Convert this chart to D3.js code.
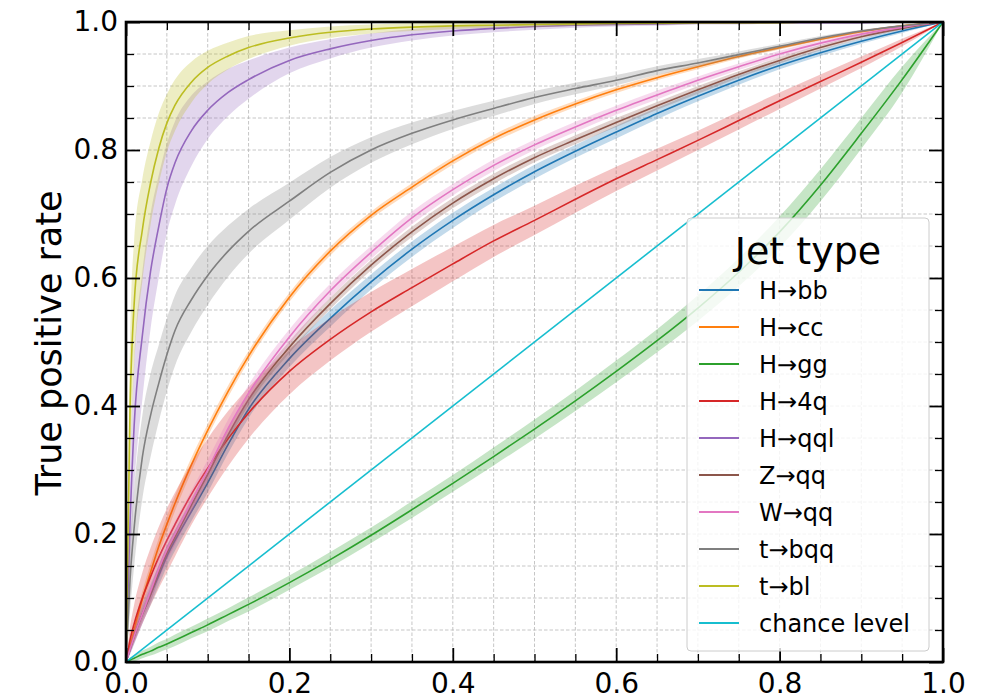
<!DOCTYPE html>
<html><head><meta charset="utf-8">
<script src="https://cdn.jsdelivr.net/npm/d3@7"></script>
<style>body{margin:0;background:#fff} svg{display:block} text{font-family:"DejaVu Sans",sans-serif;fill:#000}</style>
</head><body><svg id="c" width="1003" height="697"></svg>
<script>
// ---- data ----
const fpr = [0,0.005,0.01,0.02,0.03,0.04,0.05,0.06,0.08,0.1,0.125,0.15,0.2,0.25,0.3,0.35,0.4,0.45,0.5,0.55,0.6,0.65,0.7,0.75,0.8,0.85,0.9,0.95,1];
const categories = ["H→bb","H→cc","H→gg","H→4q","H→qql","Z→qq","W→qq","t→bqq","t→bl"];

const tprHbb  = [0,0.02,0.04,0.075,0.105,0.135,0.165,0.19,0.235,0.28,0.34,0.395,0.474,0.537,0.594,0.645,0.69,0.73,0.766,0.798,0.828,0.857,0.884,0.909,0.932,0.952,0.97,0.986,1];
const tprHcc  = [0,0.025,0.05,0.098,0.14,0.18,0.215,0.248,0.308,0.362,0.423,0.478,0.57,0.642,0.698,0.742,0.783,0.818,0.847,0.872,0.894,0.913,0.93,0.946,0.96,0.973,0.985,0.994,1];
const tprHgg  = [0,0.003,0.006,0.012,0.017,0.023,0.028,0.034,0.046,0.058,0.074,0.09,0.124,0.16,0.198,0.238,0.279,0.321,0.364,0.408,0.454,0.502,0.553,0.609,0.672,0.745,0.826,0.91,1];
const tprH4q  = [0,0.035,0.06,0.1,0.133,0.163,0.19,0.215,0.262,0.303,0.349,0.389,0.454,0.504,0.547,0.585,0.622,0.658,0.69,0.723,0.755,0.785,0.815,0.846,0.877,0.907,0.937,0.968,1];
const tprHqql = [0,0.22,0.37,0.51,0.61,0.68,0.74,0.78,0.83,0.862,0.89,0.91,0.94,0.958,0.971,0.98,0.986,0.99,0.993,0.995,0.996,0.997,0.998,0.998,0.999,0.999,0.999,1,1];
const tprZqq  = [0,0.02,0.04,0.075,0.105,0.14,0.17,0.195,0.245,0.293,0.355,0.41,0.492,0.56,0.62,0.672,0.717,0.755,0.788,0.816,0.843,0.869,0.894,0.918,0.94,0.96,0.977,0.99,1];
const tprWqq  = [0,0.02,0.04,0.075,0.11,0.145,0.175,0.2,0.25,0.3,0.365,0.42,0.508,0.58,0.64,0.694,0.738,0.776,0.808,0.836,0.862,0.886,0.909,0.93,0.95,0.967,0.981,0.992,1];
const tprTbqq = [0,0.13,0.21,0.32,0.385,0.435,0.48,0.518,0.566,0.604,0.642,0.673,0.72,0.765,0.8,0.826,0.847,0.865,0.882,0.896,0.909,0.924,0.936,0.949,0.962,0.975,0.986,0.994,1];
const tprTbl  = [0,0.4,0.56,0.675,0.748,0.802,0.842,0.87,0.906,0.929,0.947,0.96,0.975,0.984,0.989,0.992,0.994,0.995,0.996,0.997,0.998,0.998,0.999,0.999,0.999,1,1,1,1];

// band half-widths (TPR units) read from the shaded regions
const bandHbb  = [0,0.008,0.012,0.015,0.016,0.016,0.016,0.016,0.015,0.015,0.014,0.014,0.013,0.013,0.012,0.012,0.012,0.011,0.011,0.01,0.01,0.009,0.008,0.007,0.006,0.005,0.004,0.003,0];
const bandHcc  = [0,0.008,0.01,0.012,0.013,0.013,0.013,0.012,0.011,0.01,0.009,0.008,0.007,0.007,0.006,0.006,0.006,0.006,0.006,0.005,0.005,0.004,0.004,0.003,0.003,0.002,0.002,0.001,0];
const bandHgg  = [0,0.004,0.005,0.006,0.007,0.008,0.008,0.009,0.009,0.01,0.01,0.011,0.011,0.012,0.012,0.013,0.013,0.014,0.015,0.016,0.017,0.018,0.02,0.022,0.024,0.025,0.024,0.02,0];
const bandH4q  = [0,0.02,0.03,0.04,0.045,0.048,0.05,0.05,0.048,0.046,0.043,0.04,0.036,0.033,0.031,0.029,0.027,0.025,0.023,0.021,0.019,0.017,0.015,0.014,0.013,0.011,0.009,0.006,0];
const bandHqql = [0,0.08,0.1,0.1,0.09,0.08,0.07,0.065,0.055,0.045,0.037,0.03,0.02,0.015,0.011,0.009,0.007,0.006,0.005,0.004,0.003,0.003,0.002,0.002,0.001,0.001,0.001,0.001,0];
const bandZqq  = [0,0.006,0.008,0.01,0.011,0.011,0.011,0.011,0.01,0.01,0.01,0.009,0.009,0.009,0.008,0.008,0.008,0.008,0.007,0.007,0.007,0.006,0.006,0.005,0.005,0.004,0.003,0.002,0];
const bandWqq  = [0,0.008,0.012,0.016,0.018,0.019,0.02,0.02,0.018,0.016,0.014,0.013,0.012,0.011,0.01,0.01,0.009,0.009,0.008,0.008,0.007,0.007,0.006,0.005,0.005,0.004,0.003,0.002,0];
const bandTbqq = [0,0.05,0.06,0.065,0.065,0.06,0.057,0.055,0.05,0.046,0.04,0.035,0.029,0.024,0.02,0.017,0.014,0.012,0.01,0.009,0.008,0.007,0.006,0.005,0.004,0.003,0.002,0.001,0];
const bandTbl  = [0,0.1,0.1,0.08,0.065,0.055,0.045,0.04,0.032,0.026,0.021,0.018,0.012,0.009,0.007,0.006,0.005,0.004,0.004,0.003,0.003,0.002,0.002,0.002,0.001,0.001,0.001,0.001,0];

const chanceLevel = [[0,0],[1,1]];
const majorTicks = [0,0.2,0.4,0.6,0.8,1.0];
const minorTicks = [0.05,0.1,0.15,0.25,0.3,0.35,0.45,0.5,0.55,0.65,0.7,0.75,0.85,0.9,0.95];
const legendTitle = "Jet type";
const chanceLabel = "chance level";
const yLabel = "True positive rate";

// ---- styles ----
const colors = ["#1f77b4","#ff7f0e","#2ca02c","#d62728","#9467bd","#8c564b","#e377c2","#7f7f7f","#bcbd22"];
const chanceColor = "#17becf";

const tprs = [tprHbb,tprHcc,tprHgg,tprH4q,tprHqql,tprZqq,tprWqq,tprTbqq,tprTbl];
const bands = [bandHbb,bandHcc,bandHgg,bandH4q,bandHqql,bandZqq,bandWqq,bandTbqq,bandTbl];
const series = categories.map((name,i)=>({
  name, color: colors[i],
  pts: fpr.map((f,j)=>({x:f, y:tprs[i][j], lo:Math.max(0,tprs[i][j]-bands[i][j]), hi:Math.min(1,tprs[i][j]+bands[i][j])}))
}));

const L=126, T=22, R=943, B=662;
const svg = d3.select("#c");
const x = d3.scaleLinear().domain([0,1]).range([L,R]);
const y = d3.scaleLinear().domain([0,1]).range([B,T]);

svg.append("defs").append("clipPath").attr("id","clip")
  .append("rect").attr("x",L).attr("y",T).attr("width",R-L).attr("height",B-T);

// grid
const gridVals = majorTicks.concat(minorTicks);
const grid = svg.append("g").attr("stroke","#b8b8b8").attr("stroke-width",0.8).attr("stroke-dasharray","3.5,2");
gridVals.forEach(v=>{
  grid.append("line").attr("x1",x(v)).attr("x2",x(v)).attr("y1",T).attr("y2",B);
  grid.append("line").attr("y1",y(v)).attr("y2",y(v)).attr("x1",L).attr("x2",R);
});

const plot = svg.append("g").attr("clip-path","url(#clip)");
const area = d3.area().x(d=>x(d.x)).y0(d=>y(d.lo)).y1(d=>y(d.hi)).curve(d3.curveMonotoneX);
const line = d3.line().x(d=>x(d.x)).y(d=>y(d.y)).curve(d3.curveMonotoneX);

series.forEach(s=>{
  plot.append("path").datum(s.pts).attr("d",area).attr("fill",s.color).attr("fill-opacity",0.27).attr("stroke","none");
  plot.append("path").datum(s.pts).attr("d",line).attr("fill","none").attr("stroke",s.color).attr("stroke-width",1.6);
});
plot.append("path").datum(chanceLevel).attr("d",d3.line().x(d=>x(d[0])).y(d=>y(d[1])))
  .attr("fill","none").attr("stroke",chanceColor).attr("stroke-width",1.6);

// axes with inward ticks
const fmt = d3.format(".1f");
function styleAxis(g){ g.select(".domain").remove(); g.selectAll("line").attr("stroke","#000"); g.selectAll("text").attr("font-size",28).attr("font-family","DejaVu Sans"); }
svg.append("g").attr("transform",`translate(0,${B})`)
  .call(d3.axisBottom(x).tickValues(majorTicks).tickFormat(fmt).tickSizeInner(-14).tickSizeOuter(0).tickPadding(11))
  .call(styleAxis).selectAll("line").attr("stroke-width",1.8);
svg.append("g").attr("transform",`translate(0,${B})`)
  .call(d3.axisBottom(x).tickValues(minorTicks).tickFormat("").tickSizeInner(-8).tickSizeOuter(0))
  .call(styleAxis).selectAll("line").attr("stroke-width",1.3);
svg.append("g").attr("transform",`translate(0,${T})`)
  .call(d3.axisTop(x).tickValues(majorTicks).tickFormat("").tickSizeInner(-14).tickSizeOuter(0))
  .call(styleAxis).selectAll("line").attr("stroke-width",1.8);
svg.append("g").attr("transform",`translate(0,${T})`)
  .call(d3.axisTop(x).tickValues(minorTicks).tickFormat("").tickSizeInner(-8).tickSizeOuter(0))
  .call(styleAxis).selectAll("line").attr("stroke-width",1.3);
svg.append("g").attr("transform",`translate(${L},0)`)
  .call(d3.axisLeft(y).tickValues(majorTicks).tickFormat(fmt).tickSizeInner(-14).tickSizeOuter(0).tickPadding(8))
  .call(styleAxis).selectAll("line").attr("stroke-width",1.8);
svg.append("g").attr("transform",`translate(${L},0)`)
  .call(d3.axisLeft(y).tickValues(minorTicks).tickFormat("").tickSizeInner(-8).tickSizeOuter(0))
  .call(styleAxis).selectAll("line").attr("stroke-width",1.3);
svg.append("g").attr("transform",`translate(${R},0)`)
  .call(d3.axisRight(y).tickValues(majorTicks).tickFormat("").tickSizeInner(-14).tickSizeOuter(0))
  .call(styleAxis).selectAll("line").attr("stroke-width",1.8);
svg.append("g").attr("transform",`translate(${R},0)`)
  .call(d3.axisRight(y).tickValues(minorTicks).tickFormat("").tickSizeInner(-8).tickSizeOuter(0))
  .call(styleAxis).selectAll("line").attr("stroke-width",1.3);

// spines
svg.append("rect").attr("x",L).attr("y",T).attr("width",R-L).attr("height",B-T)
  .attr("fill","none").attr("stroke","#000").attr("stroke-width",2.6);

// y label
svg.append("text").attr("transform",`translate(61,343) rotate(-90)`).attr("text-anchor","middle")
  .attr("font-size",35).text(yLabel);

// legend
const lg = svg.append("g");
lg.append("rect").attr("x",687).attr("y",218).attr("width",242).attr("height",433).attr("rx",4)
  .attr("fill","#fff").attr("fill-opacity",0.8).attr("stroke","#cccccc").attr("stroke-width",1);
lg.append("text").attr("x",808).attr("y",264).attr("text-anchor","middle").attr("font-size",38).text(legendTitle);
const entries = series.map(s=>({name:s.name,color:s.color})).concat([{name:chanceLabel,color:chanceColor}]);
entries.forEach((e,i)=>{
  const cy = 290 + i*37;
  lg.append("line").attr("x1",699).attr("x2",739).attr("y1",cy).attr("y2",cy).attr("stroke",e.color).attr("stroke-width",2);
  lg.append("text").attr("x",759).attr("y",cy).attr("dy","0.36em").attr("font-size",24).text(e.name);
});
</script></body></html>
